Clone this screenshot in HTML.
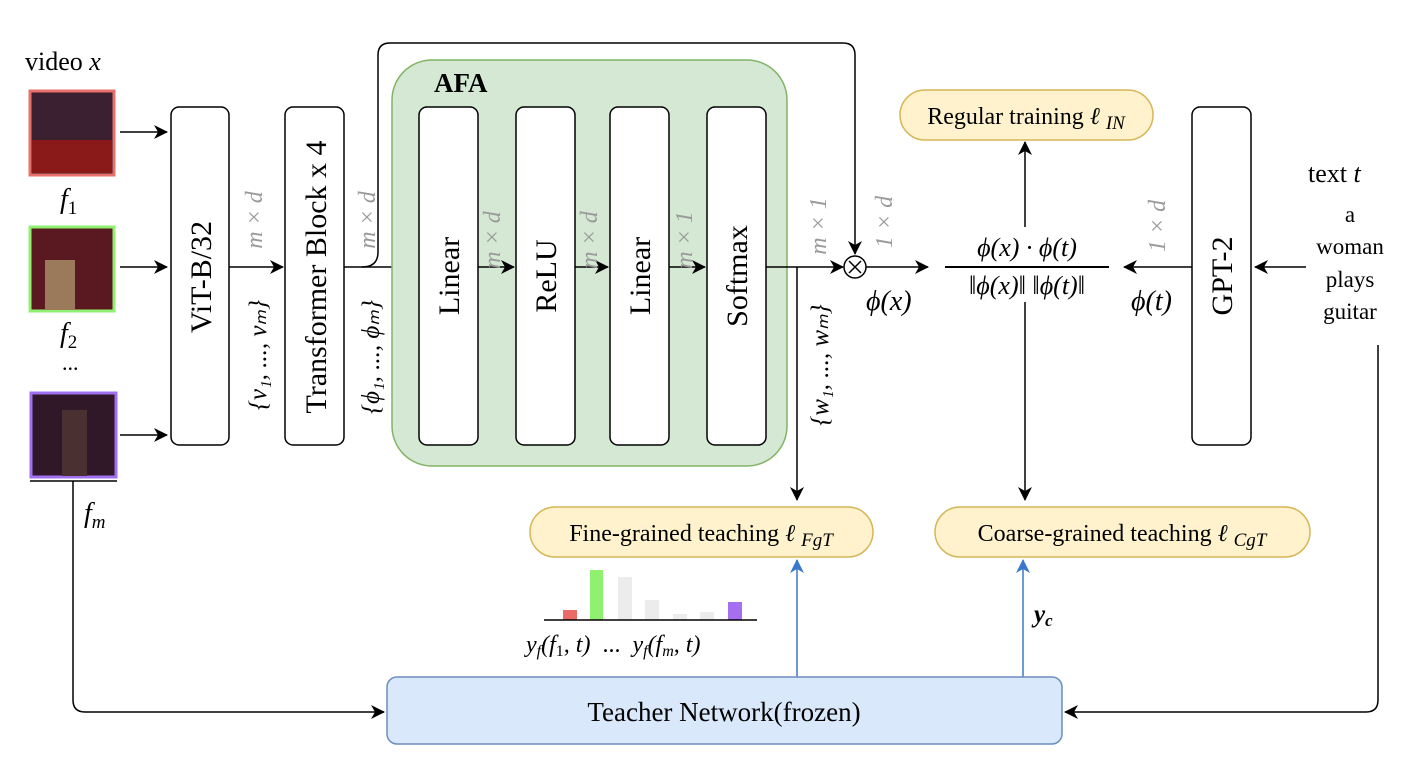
<!DOCTYPE html>
<html><head><meta charset="utf-8"><style>
html,body{margin:0;padding:0;background:#fff;}
svg{display:block;font-family:"Liberation Serif",serif;}
.m{font-style:italic;}
.g{fill:#9a9a9a;font-size:24px;font-style:italic;}
</style></head><body>
<svg width="1414" height="760" viewBox="0 0 1414 760" xmlns="http://www.w3.org/2000/svg">
<defs>
<marker id="a" markerWidth="14" markerHeight="14" refX="13" refY="7" orient="auto" markerUnits="userSpaceOnUse" viewBox="0 0 14 14"><path d="M0,0 L14,7 L0,14 L4,7 Z" fill="#000"/></marker>
<marker id="b" markerWidth="14" markerHeight="14" refX="13" refY="7" orient="auto" markerUnits="userSpaceOnUse" viewBox="0 0 14 14"><path d="M0,0 L14,7 L0,14 L4,7 Z" fill="#3a78c9"/></marker>
</defs>
<text x="25" y="70" font-size="26">video <tspan class="m">x</tspan></text>
<rect x="30" y="91" width="84" height="84" fill="#3a2030" stroke="#e8706a" stroke-width="3"/>
<rect x="32" y="140" width="80" height="33" fill="#8a1a1a"/>
<rect x="30" y="227" width="84" height="84" fill="#5a1820" stroke="#90f070" stroke-width="3"/>
<rect x="45" y="260" width="30" height="50" fill="#9a7a5a"/>
<rect x="31" y="393" width="85" height="84" fill="#301828" stroke="#a070f0" stroke-width="3"/>
<rect x="62" y="410" width="25" height="66" fill="#4a3030"/>
<line x1="30" y1="481" x2="117" y2="481" stroke="#000" stroke-width="1.5"/>
<text x="60" y="208" font-size="28" class="m">f<tspan font-size="19" font-style="normal" dy="6">1</tspan></text>
<text x="60" y="342" font-size="28" class="m">f<tspan font-size="19" font-style="normal" dy="6">2</tspan></text>
<text x="62" y="370" font-size="22">...</text>
<text x="84" y="522" font-size="28" class="m">f<tspan font-size="19" dy="6">m</tspan></text>
<g stroke="#000" stroke-width="1.5" fill="none">
<line x1="120" y1="132" x2="167" y2="132" marker-end="url(#a)"/>
<line x1="120" y1="267" x2="167" y2="267" marker-end="url(#a)"/>
<line x1="120" y1="435" x2="167" y2="435" marker-end="url(#a)"/>
<line x1="229" y1="267" x2="283" y2="267" marker-end="url(#a)"/>
<line x1="344" y1="267" x2="413" y2="267" marker-end="url(#a)"/>
<path d="M362,267 Q378,267 378,252 L378,55 Q378,43 390,43 L843,43 Q855,43 855,55 L855,254" marker-end="url(#a)"/>
<line x1="73" y1="481" x2="73" y2="700"/>
<path d="M73,700 Q73,712 85,712 L384,712" marker-end="url(#a)"/>
<path d="M1378,345 L1378,700 Q1378,712 1366,712 L1065,712" marker-end="url(#a)"/>
</g>
<rect x="171" y="107" width="58" height="338" rx="8" fill="#fff" stroke="#000" stroke-width="1.5"/>
<rect x="285" y="107" width="59" height="338" rx="8" fill="#fff" stroke="#000" stroke-width="1.5"/>
<text transform="translate(211,277) rotate(-90)" text-anchor="middle" font-size="30">ViT-B/32</text>
<text transform="translate(326,277) rotate(-90)" text-anchor="middle" font-size="30">Transformer Block x 4</text>
<text transform="translate(262,220) rotate(-90)" text-anchor="middle" class="g">m × d</text>
<text transform="translate(375,220) rotate(-90)" text-anchor="middle" class="g">m × d</text>
<text transform="translate(266,355) rotate(-90)" text-anchor="middle" font-size="25" class="m">{v₁, ..., vₘ}</text>
<text transform="translate(379,357) rotate(-90)" text-anchor="middle" font-size="25" class="m">{ϕ₁, ..., ϕₘ}</text>
<rect x="392" y="60" width="395" height="406" rx="40" fill="#d5e8d4" stroke="#82b366" stroke-width="1.5"/>
<text x="434" y="92" font-size="27" font-weight="bold">AFA</text>
<g fill="#fff" stroke="#000" stroke-width="1.5">
<rect x="419" y="107" width="59" height="338" rx="8"/>
<rect x="516" y="107" width="59" height="338" rx="8"/>
<rect x="610" y="107" width="59" height="338" rx="8"/>
<rect x="707" y="107" width="59" height="338" rx="8"/>
</g>
<text transform="translate(459,276) rotate(-90)" text-anchor="middle" font-size="30">Linear</text>
<text transform="translate(556,276) rotate(-90)" text-anchor="middle" font-size="30">ReLU</text>
<text transform="translate(650,276) rotate(-90)" text-anchor="middle" font-size="30">Linear</text>
<text transform="translate(747,276) rotate(-90)" text-anchor="middle" font-size="30">Softmax</text>
<g stroke="#000" stroke-width="1.5" fill="none">
<line x1="478" y1="267" x2="514" y2="267" marker-end="url(#a)"/>
<line x1="575" y1="267" x2="608" y2="267" marker-end="url(#a)"/>
<line x1="669" y1="267" x2="705" y2="267" marker-end="url(#a)"/>
<line x1="766" y1="267" x2="843" y2="267" marker-end="url(#a)"/>
<line x1="797" y1="267" x2="797" y2="500" marker-end="url(#a)"/>
<circle cx="855" cy="267" r="11" fill="#fff"/>
<line x1="849" y1="261" x2="861" y2="273"/><line x1="861" y1="261" x2="849" y2="273"/>
<line x1="866" y1="267" x2="928" y2="267" marker-end="url(#a)"/>
<line x1="945" y1="267" x2="1109" y2="267" stroke-width="2"/>
<line x1="1025" y1="227" x2="1025" y2="142" marker-end="url(#a)"/>
<line x1="1025" y1="302" x2="1025" y2="500" marker-end="url(#a)"/>
<line x1="1192" y1="267" x2="1124" y2="267" marker-end="url(#a)"/>
<line x1="1306" y1="267" x2="1255" y2="267" marker-end="url(#a)"/>
</g>
<text transform="translate(500,240) rotate(-90)" text-anchor="middle" class="g">m × d</text>
<text transform="translate(597,240) rotate(-90)" text-anchor="middle" class="g">m × d</text>
<text transform="translate(692,240) rotate(-90)" text-anchor="middle" class="g">m × 1</text>
<text transform="translate(826,226) rotate(-90)" text-anchor="middle" class="g">m × 1</text>
<text transform="translate(892,222) rotate(-90)" text-anchor="middle" class="g">1 × d</text>
<text transform="translate(1165,226) rotate(-90)" text-anchor="middle" class="g">1 × d</text>
<text transform="translate(828,365) rotate(-90)" text-anchor="middle" font-size="25" class="m">{w₁, ..., wₘ}</text>
<text x="866" y="310" font-size="28" class="m">ϕ(x)</text>
<text x="1131" y="310" font-size="28" class="m">ϕ(t)</text>
<text x="1027" y="256" font-size="26" text-anchor="middle" class="m">ϕ(x) · ϕ(t)</text>
<text x="1027" y="294" font-size="26" text-anchor="middle" class="m">‖ϕ(x)‖ ‖ϕ(t)‖</text>
<rect x="1192" y="107" width="59" height="338" rx="8" fill="#fff" stroke="#000" stroke-width="1.5"/>
<text transform="translate(1232,276) rotate(-90)" text-anchor="middle" font-size="30">GPT-2</text>
<text x="1308" y="182" font-size="26">text <tspan class="m">t</tspan></text>
<g font-size="23" text-anchor="middle">
<text x="1350" y="222">a</text><text x="1350" y="254">woman</text><text x="1350" y="287">plays</text><text x="1350" y="319">guitar</text>
</g>
<rect x="900" y="90" width="253" height="50" rx="25" fill="#fff2cc" stroke="#d6b656" stroke-width="1.5"/>
<text x="1026" y="124" font-size="24" text-anchor="middle">Regular training <tspan class="m">ℓ</tspan> <tspan class="m" font-size="19" dy="5">IN</tspan></text>
<rect x="530" y="507" width="343" height="50" rx="25" fill="#fff2cc" stroke="#d6b656" stroke-width="1.5"/>
<text x="701" y="541" font-size="24" text-anchor="middle">Fine-grained teaching <tspan class="m">ℓ</tspan> <tspan class="m" font-size="19" dy="5">FgT</tspan></text>
<rect x="935" y="507" width="375" height="50" rx="25" fill="#fff2cc" stroke="#d6b656" stroke-width="1.5"/>
<text x="1122" y="541" font-size="24" text-anchor="middle">Coarse-grained teaching <tspan class="m">ℓ</tspan> <tspan class="m" font-size="19" dy="5">CgT</tspan></text>
<rect x="563" y="610" width="14" height="10" fill="#ea6b66"/>
<rect x="590" y="570" width="13" height="50" fill="#90f070"/>
<rect x="618" y="577" width="14" height="43" fill="#ececec"/>
<rect x="645" y="600" width="14" height="20" fill="#ececec"/>
<rect x="673" y="614" width="14" height="6" fill="#ececec"/>
<rect x="700" y="612" width="14" height="8" fill="#ececec"/>
<rect x="728" y="602" width="14" height="18" fill="#a570f0"/>
<line x1="544" y1="620" x2="757" y2="620" stroke="#000" stroke-width="1.5"/>
<text x="526" y="652" font-size="24" class="m" xml:space="preserve">y<tspan font-size="16" dy="4">f</tspan><tspan dy="-4">(f<tspan font-size="16" font-style="normal" dy="4">1</tspan><tspan dy="-4">, t)</tspan></tspan><tspan font-style="normal">  ...  </tspan>y<tspan font-size="16" dy="4">f</tspan><tspan dy="-4">(f<tspan font-size="16" dy="4">m</tspan><tspan dy="-4">, t)</tspan></tspan></text>
<text x="1034" y="622" font-size="25" class="m" font-weight="bold">y<tspan font-size="17" dy="4">c</tspan></text>
<g stroke="#3a78c9" stroke-width="1.5">
<line x1="797" y1="677" x2="797" y2="560" marker-end="url(#b)"/>
<line x1="1023" y1="677" x2="1023" y2="560" marker-end="url(#b)"/>
</g>
<rect x="387" y="677" width="675" height="67" rx="10" fill="#dae8fc" stroke="#6c8ebf" stroke-width="1.5"/>
<text x="724" y="721" font-size="27" text-anchor="middle">Teacher Network(frozen)</text>
</svg>
</body></html>
